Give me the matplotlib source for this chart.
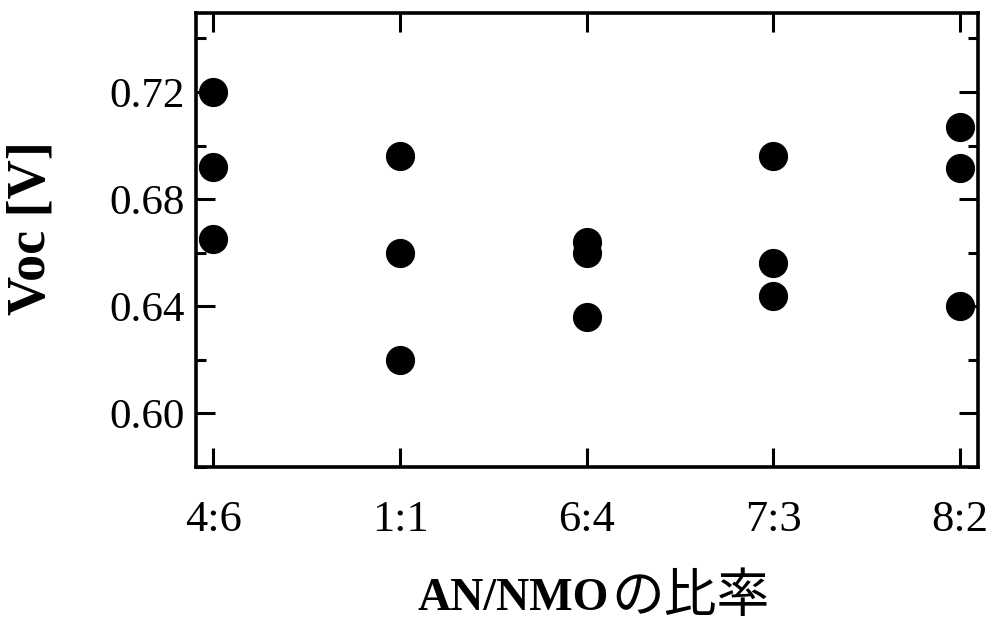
import matplotlib
matplotlib.use("Agg")
import matplotlib.pyplot as plt
from matplotlib.ticker import MultipleLocator

categories = ["4:6", "1:1", "6:4", "7:3", "8:2"]
voc_values = [
    [0.720, 0.692, 0.665],
    [0.696, 0.660, 0.620],
    [0.664, 0.660, 0.636],
    [0.696, 0.656, 0.644],
    [0.707, 0.6915, 0.640],
]

fig = plt.figure(figsize=(9.91, 6.30), dpi=100)
ax = fig.add_axes([196/991, 1 - 467/630, (978.3 - 196)/991, (467 - 13)/630])

for i, vals in enumerate(voc_values):
    ax.plot([i] * len(vals), vals, 'o', color='black',
            markersize=20, linestyle='none')

ax.set_xlim(-0.093, 4.098)
ax.set_ylim(0.58, 0.7495)
ax.set_xticks(range(len(categories)))
ax.set_xticklabels(categories)
ax.yaxis.set_minor_locator(MultipleLocator(0.02))
ax.set_yticks([0.60, 0.64, 0.68, 0.72])
ax.set_yticklabels(["0.60", "0.64", "0.68", "0.72"])

serif = "Liberation Serif"
for lab in ax.get_yticklabels():
    lab.set_fontfamily(serif)
    lab.set_fontsize(31)
for lab in ax.get_xticklabels():
    lab.set_fontfamily(serif)
    lab.set_fontsize(32)

ax.tick_params(axis='both', which='major', direction='in', length=14, width=2.2,
               top=True, right=True)
ax.tick_params(axis='y', which='minor', direction='in', length=7.5, width=2.2,
               left=True, right=True)
ax.tick_params(axis='x', which='major', pad=24)
ax.tick_params(axis='y', which='major', pad=8)
for s in ax.spines.values():
    s.set_linewidth(2.6)

fig.text(31/991, 1 - 228/630, "Voc [V]", rotation=90, ha='center', va='center',
         fontsize=39, fontweight='bold', family=serif)
fig.text(609/991, 1 - 599/630, "AN/NMO", ha='right', va='center', fontsize=33,
         fontweight='bold', family=serif)
fig.text(611/991, 1 - 597/630, "の比率", ha='left', va='center', fontsize=38,
         family=["Noto Sans CJK JP", "DejaVu Sans"])

fig.savefig("out.png", dpi=100)
